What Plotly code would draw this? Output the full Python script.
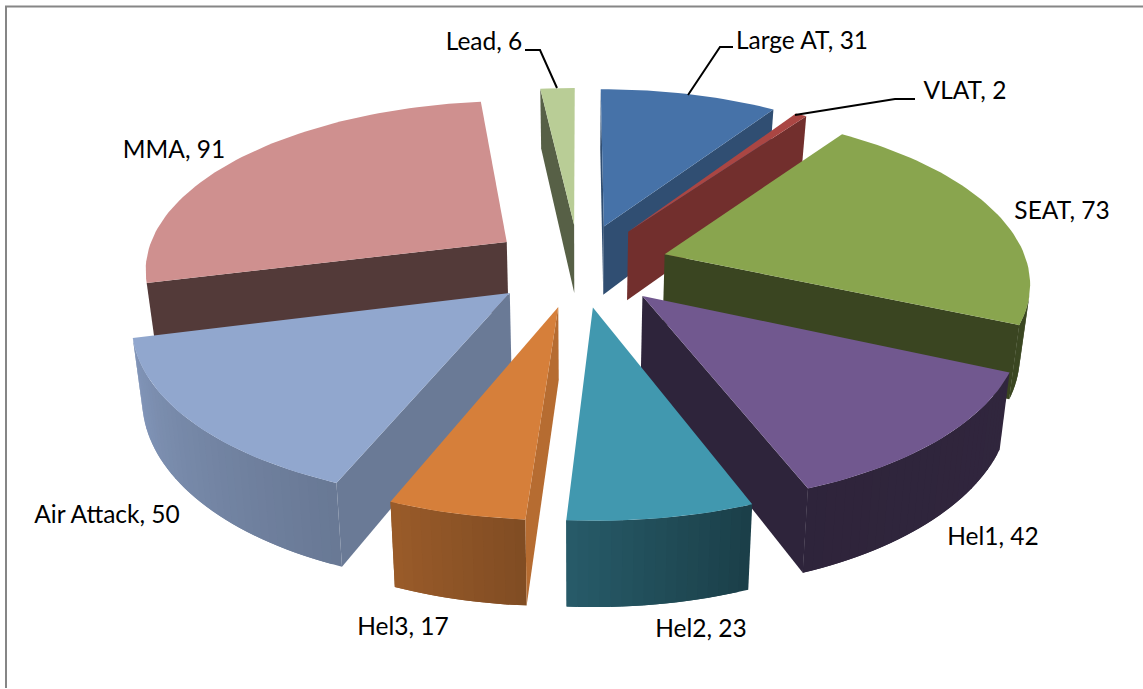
import numpy as np
import plotly.graph_objects as go

# ---- data ----
names = ["Large AT", "VLAT", "SEAT", "Hel1", "Hel2", "Hel3", "Air Attack", "MMA", "Lead"]
values = [31, 2, 73, 42, 23, 17, 50, 91, 6]

# ---- style ----
top_colors = ["#4672A8", "#AA4643", "#89A54E", "#71588F", "#4198AF",
              "#D67F3A", "#91A7CE", "#CF908F", "#B9CD96"]
wall_shades = [0.68, 0.67, 0.42, 0.41, 0.63, 0.85, 0.73, 0.40, 0.47]
arc_angle_knots = [0, 114, 159, 184, 202, 256, 360]
arc_shade_knots = [0.45, 0.43, 0.41, 0.60, 0.72, 0.90, 0.60]
label_x = [802, 965, 1062, 993, 701, 403, 107, 174, 484]
label_y = [43, 93, 213, 539, 631, 629, 517, 152, 44]
leaders = [([733, 720, 688], [47, 47, 95]),
           ([915, 895, 795], [99, 99, 115]),
           ([525, 540, 557], [50, 50, 88])]

# ---- projection of the tilted pie ----
CX, CY = 579.0, 265.0
A, B, G = 363.0, 168.0, 0.147
EXPLODE = 0.247
H = 70.5
SHRINK = 0.977


def project(X, Y, bottom=False):
    p = 1.0 / (1.0 - G * Y)
    x, y = A * X * p, B * Y * p
    if bottom:
        return CX + x * SHRINK, CY + y + H * p
    return CX + x, CY + y


def scale(hex_color, f):
    r, g, b = (int(hex_color[i:i + 2], 16) for i in (1, 3, 5))
    return f"rgb({r * f:.0f},{g * f:.0f},{b * f:.0f})"


def facing(xs, ys):
    area = 0.0
    for i in range(len(xs)):
        j = (i + 1) % len(xs)
        area += xs[i] * ys[j] - xs[j] * ys[i]
    return area


fig = go.Figure()


def poly(xs, ys, color):
    fig.add_trace(go.Scatter(
        x=list(xs) + [xs[0]], y=list(ys) + [ys[0]], mode="lines", fill="toself",
        fillcolor=color, line=dict(color=color, width=0),
        hoverinfo="skip", showlegend=False))


total = sum(values)
edges = np.concatenate([[0.0], np.cumsum(values)]) / total * 360.0
slices = list(range(len(values)))
mids = [(edges[i] + edges[i + 1]) / 2 for i in slices]
order = sorted(slices, key=lambda i: -np.cos(np.radians(mids[i])))

for i in order:
    mid = np.radians(mids[i])
    ox, oy = EXPLODE * np.sin(mid), -EXPLODE * np.cos(mid)
    n = max(3, int((edges[i + 1] - edges[i]) / 1.5) + 2)
    angles = np.linspace(edges[i], edges[i + 1], n)
    rad = np.radians(angles)
    px, py = ox + np.sin(rad), oy - np.cos(rad)

    def quad(x0, y0, x1, y1):
        t0 = project(x0, y0)
        t1 = project(x1, y1)
        b1 = project(x1, y1, True)
        b0 = project(x0, y0, True)
        return [t0[0], t1[0], b1[0], b0[0]], [t0[1], t1[1], b1[1], b0[1]]

    # outer wall, strip by strip; each strip runs under the next to avoid seams
    for k in range(n - 1):
        k2 = min(k + 2, n - 1)
        xs, ys = quad(px[k], py[k], px[k + 1], py[k + 1])
        if facing(xs, ys) < 0:
            f = np.interp((angles[k] + angles[k + 1]) / 2, arc_angle_knots, arc_shade_knots)
            xs2, ys2 = quad(px[k], py[k], px[k2], py[k2])
            poly(xs2, ys2, scale(top_colors[i], f))
    # radial walls
    wall = scale(top_colors[i], wall_shades[i])
    xs, ys = quad(ox, oy, px[0], py[0])
    if facing(xs, ys) < 0:
        poly(xs, ys, wall)
    xs, ys = quad(px[-1], py[-1], ox, oy)
    if facing(xs, ys) < 0:
        poly(xs, ys, wall)
    # top face
    tx, ty = project(np.concatenate([[ox], px]), np.concatenate([[oy], py]))
    poly(list(tx), list(ty), top_colors[i])

for lx, ly in leaders:
    fig.add_trace(go.Scatter(x=lx, y=ly, mode="lines", line=dict(color="black", width=2),
                             hoverinfo="skip", showlegend=False))

fig.add_trace(go.Scatter(
    x=label_x, y=label_y, mode="text",
    text=[f"{n}, {v}" for n, v in zip(names, values)],
    textposition="middle center",
    textfont=dict(family="Lato", size=24.5, color="black"),
    hoverinfo="skip", showlegend=False))

fig.update_layout(
    width=1143, height=689, margin=dict(l=0, r=0, t=0, b=0),
    paper_bgcolor="white", plot_bgcolor="white",
    xaxis=dict(range=[0, 1143], visible=False, fixedrange=True),
    yaxis=dict(range=[689, 0], visible=False, fixedrange=True),
    shapes=[
        dict(type="line", xref="x", yref="y", x0=5, x1=1143, y0=6.5, y1=6.5,
             line=dict(color="#868686", width=2)),
        dict(type="line", xref="x", yref="y", x0=6, x1=6, y0=6, y1=688,
             line=dict(color="#868686", width=2)),
    ],
)
fig.write_html("out.html", config={"displayModeBar": False},
               post_script="document.body.style.margin='0';document.body.style.overflow='hidden';")
